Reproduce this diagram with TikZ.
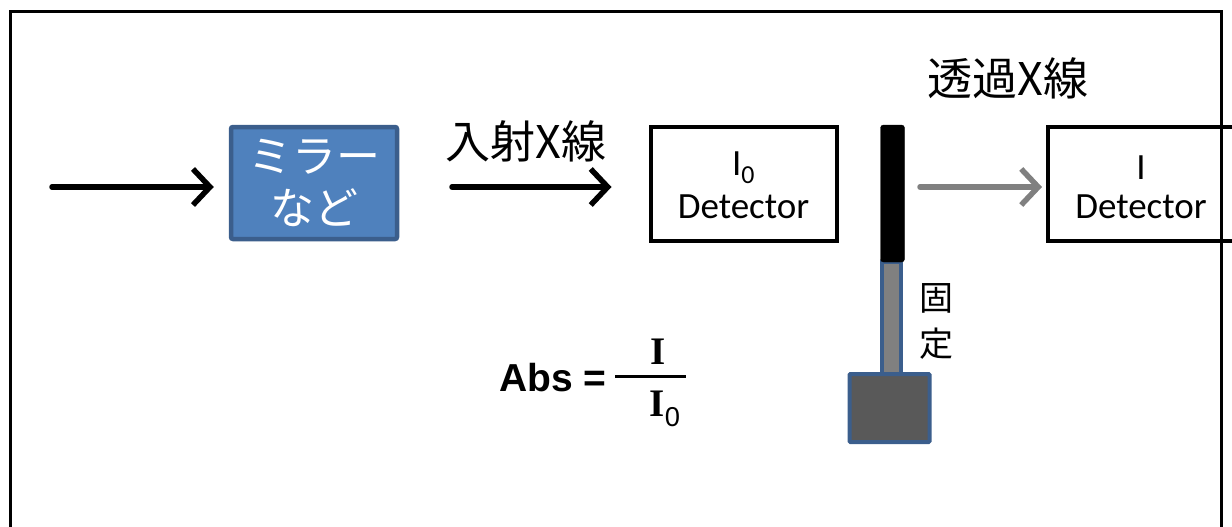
\documentclass[tikz,border=0pt]{standalone}
\usepackage{fontspec}
\setmainfont{Carlito}
\newfontfamily\jpfont{Noto Sans CJK JP}
\newfontfamily\absfont{Liberation Sans}
\newfontfamily\ifont{Liberation Serif}
\usetikzlibrary{arrows.meta}
\definecolor{mirrorblue}{HTML}{4F81BD}
\definecolor{edgeblue}{HTML}{3B5E8C}
\definecolor{beamgray}{HTML}{808080}
\definecolor{basegray}{HTML}{595959}
\tikzset{
  beam/.style={line width=5.5pt, line cap=round, -{Straight Barb[length=17pt,width=36pt,line width=5.5pt]}},
  detbox/.style={draw=black, line width=4pt, minimum width=186pt, minimum height=114pt, inner sep=0pt, align=center, font=\fontsize{37}{40}\selectfont},
  jplabel/.style={font=\jpfont\fontsize{45}{50}\selectfont, inner sep=0pt},
  holderedge/.style={draw=edgeblue, line width=4pt, inner sep=0pt},
}
\begin{document}
\begin{tikzpicture}[x=1pt,y=-1pt]
\useasboundingbox (0,0) rectangle (1232,527);
% frame
\draw[line width=3pt] (10,530) -- (10,12) -- (1221,12) -- (1221,530);
% mirror box
\node[draw=edgeblue, fill=mirrorblue, line width=4.5pt, rounded corners=2pt, minimum width=166pt, minimum height=112pt, inner sep=0pt, align=center, text=white, font=\jpfont\fontsize{44}{52}\selectfont] (mirror) at (314,183) {ミラー\\など};
% detectors
\node[detbox] (det0) at (743.5,184) {};
\node[detbox] (det1) at (1141,184) {};
\node[font=\fontsize{37}{40}\selectfont, inner sep=0pt] (t0a) at (743.5,168) {I\textsubscript{0}};
\node[font=\fontsize{37}{40}\selectfont, inner sep=0pt] (t0b) at (743.5,207) {Detector};
\node[font=\fontsize{37}{40}\selectfont, inner sep=0pt] (t1a) at (1141,168) {I};
\node[font=\fontsize{37}{40}\selectfont, inner sep=0pt] (t1b) at (1141,207) {Detector};
% arrows
\coordinate (s1) at (52,187);
\coordinate (s2) at (452,187);
\coordinate (s3) at (920,187);
\draw[beam] (s1) -- ([xshift=-15pt]mirror.west |- s1);
\draw[beam] (s2) -- ([xshift=-37pt]det0.west |- s2);
\draw[beam, draw=beamgray] (s3) -- ([xshift=-4pt]det1.west |- s3);
% labels
\node[jplabel] (lin) at (526,141) {入射X線};
\node[jplabel] (lout) at (1008,78) {透過X線};
% sample holder
\node[holderedge, fill=beamgray, minimum width=19pt, minimum height=112pt] (rod) at (891.5,318) {};
\node[draw=black, fill=black, rounded corners=3pt, minimum width=24pt, minimum height=137pt, inner sep=0pt] (sample) at (892.5,193.5) {};
\node[holderedge, fill=basegray, rounded corners=1pt, minimum width=80pt, minimum height=68pt] (base) at (889.5,408) {};
\node[font=\jpfont\fontsize{34}{46}\selectfont, align=center, inner sep=0pt] (fix) at (936,321) {固\\定};
% formula
\node[font=\absfont\bfseries\fontsize{39}{42}\selectfont, inner sep=0pt, anchor=east] (abs) at (607,378) {Abs =};
\draw[line width=3pt] (615,376) -- (686,376);
\node[font=\ifont\bfseries\fontsize{39}{40}\selectfont, inner sep=0pt] (num) at (658,352) {I};
\node[font=\ifont\bfseries\fontsize{39}{40}\selectfont, inner sep=0pt] (den) at (665,409) {I\textsubscript{\absfont\mdseries 0}};
\end{tikzpicture}
\end{document}
